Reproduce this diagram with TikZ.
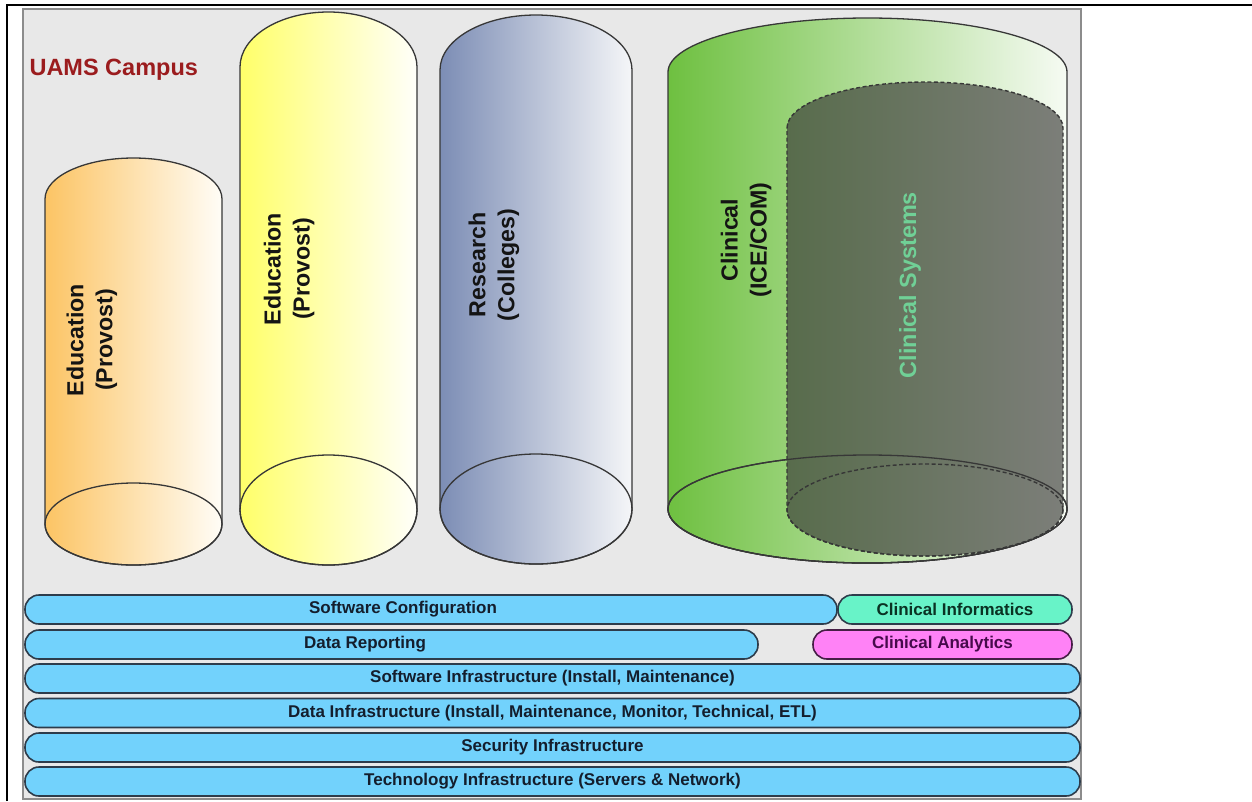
\documentclass[tikz,border=0pt]{standalone}
\usepackage{fontspec}
\setmainfont{Liberation Sans}
\definecolor{panel}{RGB}{232,232,232}
\definecolor{panelline}{RGB}{140,140,140}
\definecolor{cylline}{RGB}{55,55,55}
\definecolor{barblue}{RGB}{114,210,252}
\definecolor{barline}{RGB}{45,60,75}
\definecolor{bartextc}{RGB}{20,30,45}
\definecolor{infofill}{RGB}{104,243,200}
\definecolor{infotext}{RGB}{10,50,35}
\definecolor{anafill}{RGB}{255,130,246}
\definecolor{anaedge}{RGB}{70,30,70}
\definecolor{anatext}{RGB}{70,10,75}
\definecolor{campusred}{RGB}{155,28,30}
\definecolor{sysgreen}{RGB}{112,208,150}
% cylinder: #1 centre x, #2 x radius, #3 top centre y, #4 bottom centre y,
% #5 y radius, #6 left colour, #7 right colour
\newcommand\drawcyl[7]{%
  \shade[left color=#6, right color=#7, draw=cylline, line width=1.3pt]
    (#1-#2,#3) arc[start angle=180, end angle=0, x radius=#2pt, y radius=#5pt]
    -- (#1+#2,#4) arc[start angle=0, end angle=-180, x radius=#2pt, y radius=#5pt]
    -- cycle;
  \draw[draw=cylline, line width=1.3pt] (#1,#4) ellipse[x radius=#2pt, y radius=#5pt];
}
\begin{document}
\begin{tikzpicture}[x=1pt, y=-1pt,
  bar/.style={draw=barline, line width=1.6pt, fill=barblue, rounded corners=14pt,
    minimum height=29pt, inner sep=0pt},
  bartext/.style={font=\fontsize{17}{19}\selectfont\bfseries, text=bartextc},
  cyltext/.style={rotate=90, align=center, text=black!92,
    font=\fontsize{23.2}{29}\selectfont\bfseries}
]
\useasboundingbox (0,0) rectangle (1252,801);
\fill[white] (0,0) rectangle (1252,801);

% frame lines and grey campus panel
\draw[line width=2.4pt, line join=miter] (7,801) -- (7,5) -- (1252,5);
\draw[draw=panelline, line width=1.2pt, fill=panel] (23,9) rectangle (1081,799);

\node[anchor=base west, text=campusred, font=\fontsize{23.5}{26}\selectfont\bfseries]
  (campus) at (26,75) {UAMS Campus};

% unit cylinders
\drawcyl{133.5}{88.5}{199}{524}{41}{{rgb,255:red,252;green,196;blue,100}}{{rgb,255:red,255;green,253;blue,247}}
\drawcyl{328.5}{88.5}{67}{510}{55}{{rgb,255:red,255;green,255;blue,105}}{{rgb,255:red,255;green,255;blue,250}}
\drawcyl{536}{96}{70}{509}{55}{{rgb,255:red,124;green,141;blue,181}}{{rgb,255:red,245;green,246;blue,248}}
\drawcyl{867.5}{199.5}{72}{509}{54}{{rgb,255:red,110;green,192;blue,64}}{{rgb,255:red,246;green,251;blue,243}}

% clinical systems (dashed cylinder inside clinical)
\shade[left color={rgb,255:red,88;green,108;blue,76}, right color={rgb,255:red,124;green,126;blue,121},
  draw=cylline, line width=1.4pt, dash pattern=on 4pt off 2.5pt]
  (787,128) arc[start angle=180, end angle=0, x radius=138pt, y radius=46pt]
  -- (1063,510) arc[start angle=0, end angle=-180, x radius=138pt, y radius=46pt]
  -- cycle;
\draw[draw=cylline, line width=1.4pt, dash pattern=on 4pt off 2.5pt]
  (925,510) ellipse[x radius=138pt, y radius=46pt];
\draw[draw=cylline, line width=1.3pt] (867.5,509) ellipse[x radius=199.5pt, y radius=54pt];

% cylinder labels
\node[cyltext] (edu1) at (92,340) {Education\\(Provost)};
\node[cyltext] (edu2) at (289,269) {Education\\(Provost)};
\node[cyltext] (res) at (494,265) {Research\\(Colleges)};
\node[cyltext] (clin) at (746,240) {Clinical\\(ICE/COM)};
\node[cyltext, text=sysgreen, font=\fontsize{23.4}{28}\selectfont\bfseries] (sys) at (910,285) {Clinical Systems};

% service layers
\node[bar, minimum width=812pt] (swconf) at (431,609.5) {};
\node[bartext] (swconft) at (403,609.5) {Software Configuration};
\node[bar, minimum width=234pt, fill=infofill] (info) at (955,609.5) {};
\node[bartext, text=infotext] (infot) at (955,609.5) {Clinical Informatics};

\node[bar, minimum width=733pt] (rep) at (391.5,644.5) {};
\node[bartext] (rept) at (365,644.5) {Data Reporting};
\node[bar, minimum width=259pt, fill=anafill, draw=anaedge] (ana) at (942.5,644.5) {};
\node[bartext, text=anatext] (anat) at (942.5,644.5) {Clinical Analytics};

\node[bar, minimum width=1055pt] (swinf) at (552.5,678.5) {};
\node[bartext] at (swinf) {Software Infrastructure (Install, Maintenance)};
\node[bar, minimum width=1055pt] (dinf) at (552.5,713) {};
\node[bartext] at (dinf) {Data Infrastructure (Install, Maintenance, Monitor, Technical, ETL)};
\node[bar, minimum width=1055pt] (sec) at (552.5,747.5) {};
\node[bartext] at (sec) {Security Infrastructure};
\node[bar, minimum width=1055pt] (tech) at (552.5,781.5) {};
\node[bartext] at (tech) {Technology Infrastructure (Servers \& Network)};
\end{tikzpicture}
\end{document}
